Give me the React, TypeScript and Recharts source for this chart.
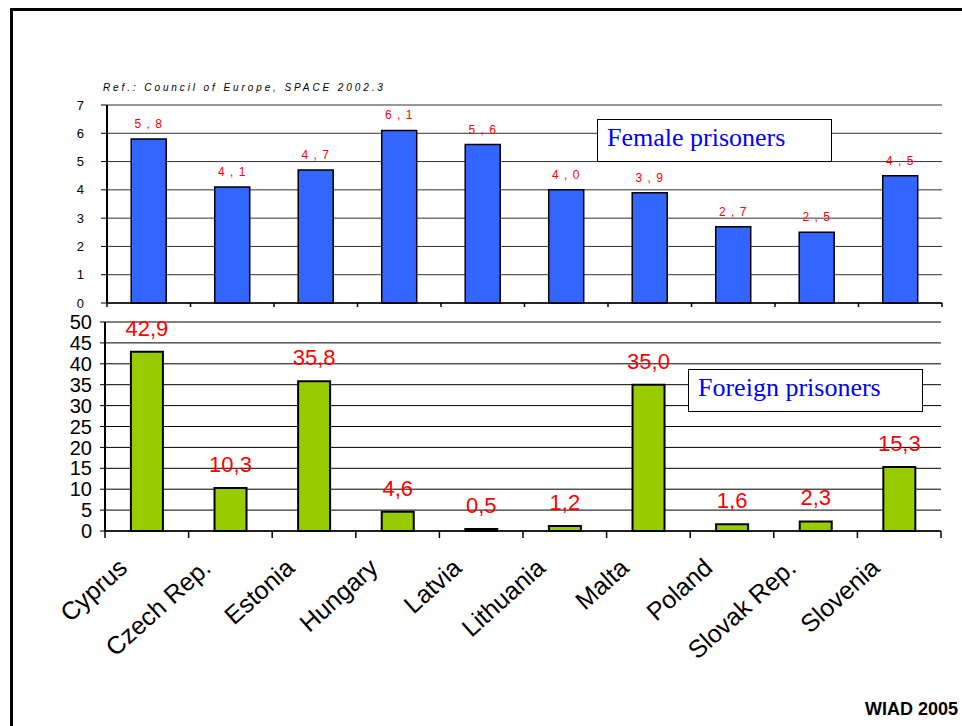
import React from 'react';
import { BarChart, Bar, XAxis, YAxis, CartesianGrid, LabelList } from 'recharts';

const categories = ['Cyprus', 'Czech Rep.', 'Estonia', 'Hungary', 'Latvia', 'Lithuania', 'Malta', 'Poland', 'Slovak Rep.', 'Slovenia'];
const femaleShare = [5.8, 4.1, 4.7, 6.1, 5.6, 4.0, 3.9, 2.7, 2.5, 4.5];
const foreignShare = [42.9, 10.3, 35.8, 4.6, 0.5, 1.2, 35.0, 1.6, 2.3, 15.3];
const femaleTicks = [0, 1, 2, 3, 4, 5, 6, 7];
const foreignTicks = [0, 5, 10, 15, 20, 25, 30, 35, 40, 45, 50];

const topData = categories.map((name, i) => ({ name, v: femaleShare[i] }));
const botData = categories.map((name, i) => ({ name, v: foreignShare[i] }));

const FONT = '"Liberation Sans", Arial, sans-serif';
const SERIF = '"Liberation Serif", "Times New Roman", serif';

const W = 962;
const TOP_L = 107, TOP_R = 942;
const BOT_L = 105, BOT_R = 941;
const TOP_BAND = (TOP_R - TOP_L) / categories.length;
const BOT_BAND = (BOT_R - BOT_L) / categories.length;

const TopTick = (props: any) => {
  const { x, y, index } = props;
  const last = index === categories.length - 1;
  return (
    <g>
      <line x1={x - TOP_BAND / 2} y1={y} x2={x - TOP_BAND / 2} y2={y + 4} stroke="#000" strokeWidth={1.5} />
      {last && <line x1={x + TOP_BAND / 2} y1={y} x2={x + TOP_BAND / 2} y2={y + 4} stroke="#000" strokeWidth={1.5} />}
    </g>
  );
};

const BotTick = (props: any) => {
  const { x, y, index, payload } = props;
  const last = index === categories.length - 1;
  return (
    <g>
      <line x1={x - BOT_BAND / 2} y1={y} x2={x - BOT_BAND / 2} y2={y + 7} stroke="#000" strokeWidth={1.5} />
      {last && <line x1={x + BOT_BAND / 2} y1={y} x2={x + BOT_BAND / 2} y2={y + 7} stroke="#000" strokeWidth={1.5} />}
      <text
        transform={`translate(${x - 18},${y + 39}) rotate(-42)`}
        textAnchor="end"
        fontSize={25}
        fontFamily={FONT}
        fill="#000"
      >
        {payload.value}
      </text>
    </g>
  );
};

const fmt = (v: number) => v.toFixed(1).replace('.', ',');

const TopLabel = (props: any) => {
  const { x, y, width, value } = props;
  return (
    <text x={x + width / 2} y={y - 11} textAnchor="middle" fontSize={12} fontFamily={FONT} fill="#FF0000" letterSpacing={1}>
      {fmt(value).replace(',', ' , ')}
    </text>
  );
};

const BotLabel = (props: any) => {
  const { x, y, width, value } = props;
  return (
    <text x={x + width / 2} y={y - 16} textAnchor="middle" fontSize={22} fontFamily={FONT} fill="#FF0000">
      {fmt(value)}
    </text>
  );
};

export default function App() {
  return (
    <div style={{ position: 'absolute', left: 0, top: 0, width: W, height: 726, background: '#fff', overflow: 'hidden', fontFamily: FONT }}>
      <div style={{ position: 'absolute', left: 10, top: 8, width: 960, height: 730, borderLeft: '3px solid #000', borderTop: '3px solid #000' }} />

      <div style={{ position: 'absolute', left: 103, top: 83, fontSize: 10, lineHeight: '10px', fontStyle: 'italic', letterSpacing: 2.9, whiteSpace: 'nowrap', color: '#000' }}>
        Ref.: Council of Europe, SPACE 2002.3
      </div>

      <div style={{ position: 'absolute', left: 0, top: 0 }}>
        <BarChart width={W} height={320} data={topData} margin={{ top: 105, right: W - TOP_R, left: TOP_L - 60, bottom: 7 }} barCategoryGap="29%">
          <CartesianGrid vertical={false} stroke="#333" strokeWidth={1} />
          <XAxis dataKey="name" height={10} axisLine={{ stroke: '#000', strokeWidth: 1.5 }} tickLine={false} tickSize={0} tickMargin={0} tick={<TopTick />} interval={0} />
          <XAxis xAxisId="top" orientation="top" dataKey="name" height={0} tick={false} tickLine={false} axisLine={{ stroke: '#999', strokeWidth: 2 }} />
          <YAxis width={60} domain={[0, 7]} ticks={femaleTicks} interval={0} axisLine={{ stroke: '#000', strokeWidth: 2 }} tickLine={{ stroke: '#000' }} tickSize={6} tickMargin={17} tick={{ fontSize: 13, fill: '#000', fontFamily: FONT }} />
          <YAxis yAxisId="right" orientation="right" width={0} tick={false} tickLine={false} axisLine={{ stroke: '#999', strokeWidth: 2 }} />
          <Bar dataKey="v" fill="#3366FF" stroke="#000" strokeWidth={1.5} isAnimationActive={false}>
            <LabelList dataKey="v" content={<TopLabel />} />
          </Bar>
        </BarChart>
      </div>

      <div style={{ position: 'absolute', left: 0, top: 310 }}>
        <BarChart width={W} height={416} data={botData} margin={{ top: 12, right: W - BOT_R, left: BOT_L - 60, bottom: 45 }} barCategoryGap="31%">
          <CartesianGrid vertical={false} stroke="#000" strokeWidth={1} />
          <XAxis dataKey="name" height={150} axisLine={{ stroke: '#000', strokeWidth: 1.5 }} tickLine={false} tickSize={0} tickMargin={0} tick={<BotTick />} interval={0} />
          <XAxis xAxisId="top" orientation="top" dataKey="name" height={0} tick={false} tickLine={false} axisLine={{ stroke: '#999', strokeWidth: 2 }} />
          <YAxis width={60} domain={[0, 50]} ticks={foreignTicks} interval={0} axisLine={{ stroke: '#000', strokeWidth: 2 }} tickLine={{ stroke: '#000' }} tickSize={5} tickMargin={8} tick={{ fontSize: 20, fill: '#000', fontFamily: FONT }} />
          <YAxis yAxisId="right" orientation="right" width={0} tick={false} tickLine={false} axisLine={{ stroke: '#999', strokeWidth: 2.5 }} />
          <Bar dataKey="v" fill="#99CC00" stroke="#000" strokeWidth={2} isAnimationActive={false}>
            <LabelList dataKey="v" content={<BotLabel />} />
          </Bar>
        </BarChart>
      </div>

      <div style={{ position: 'absolute', left: 597, top: 119, width: 233, height: 41, border: '1px solid #000', background: '#fff' }} />
      <div style={{ position: 'absolute', left: 607, top: 125, fontFamily: SERIF, fontSize: 26, lineHeight: '26px', color: '#0000FF', whiteSpace: 'nowrap' }}>Female prisoners</div>

      <div style={{ position: 'absolute', left: 688, top: 369, width: 233, height: 41, border: '1px solid #000', background: '#fff' }} />
      <div style={{ position: 'absolute', left: 698, top: 375, fontFamily: SERIF, fontSize: 26, lineHeight: '26px', color: '#0000FF', whiteSpace: 'nowrap' }}>Foreign prisoners</div>

      <div style={{ position: 'absolute', right: 4, top: 700, fontFamily: FONT, fontSize: 18, lineHeight: '18px', fontWeight: 'bold', color: '#000', whiteSpace: 'nowrap' }}>WIAD 2005</div>
    </div>
  );
}
